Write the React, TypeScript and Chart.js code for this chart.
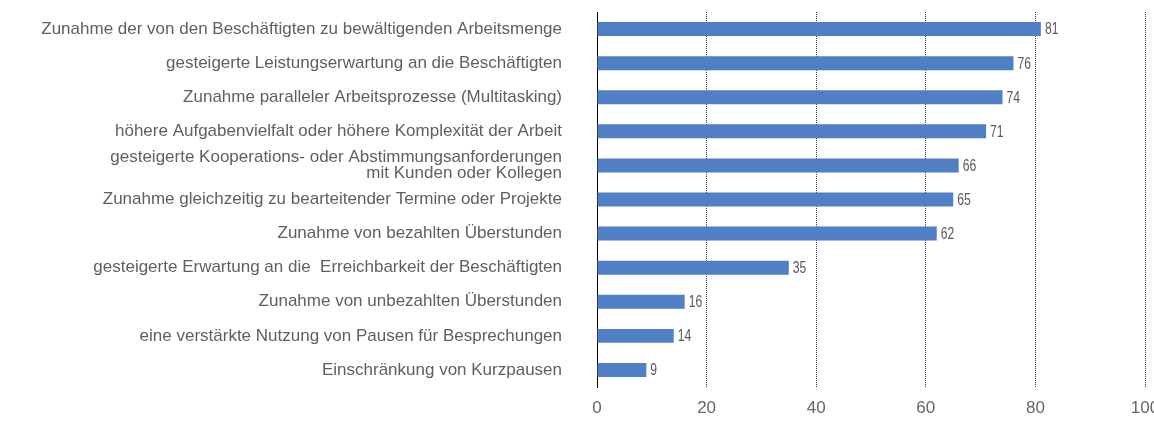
import React, { useEffect, useRef } from "react";
import { Chart, registerables } from "chart.js";

Chart.register(...registerables);

const categories: (string | string[])[] = [
  "Zunahme der von den Beschäftigten zu bewältigenden Arbeitsmenge",
  "gesteigerte Leistungserwartung an die Beschäftigten",
  "Zunahme paralleler Arbeitsprozesse (Multitasking)",
  "höhere Aufgabenvielfalt oder höhere Komplexität der Arbeit",
  ["gesteigerte Kooperations- oder Abstimmungsanforderungen", "mit Kunden oder Kollegen"],
  "Zunahme gleichzeitig zu bearteitender Termine oder Projekte",
  "Zunahme von bezahlten Überstunden",
  "gesteigerte Erwartung an die  Erreichbarkeit der Beschäftigten",
  "Zunahme von unbezahlten Überstunden",
  "eine verstärkte Nutzung von Pausen für Besprechungen",
  "Einschränkung von Kurzpausen",
];

const values: number[] = [81, 76, 74, 71, 66, 65, 62, 35, 16, 14, 9];

const valueLabelPlugin = {
  id: "valueLabels",
  afterDatasetsDraw(chart: any) {
    const { ctx } = chart;
    const meta = chart.getDatasetMeta(0);
    meta.data.forEach((bar: any, i: number) => {
      ctx.save();
      ctx.translate(bar.x + 4, bar.y + 1);
      ctx.scale(0.76, 1);
      ctx.font = '16px "Liberation Sans", Arial, sans-serif';
      ctx.fillStyle = "#595959";
      ctx.textAlign = "left";
      ctx.textBaseline = "middle";
      ctx.fillText(String(values[i]), 0, 0);
      ctx.restore();
    });
  },
};

export default function App() {
  const ref = useRef<HTMLCanvasElement>(null);
  useEffect(() => {
    if (!ref.current) return;
    const chart = new Chart(ref.current, {
      type: "bar",
      data: {
        labels: categories,
        datasets: [
          {
            data: values,
            backgroundColor: "#517fc6",
            borderWidth: 0,
            barPercentage: 0.41,
            categoryPercentage: 1,
          },
        ],
      },
      options: {
        indexAxis: "y",
        animation: false,
        responsive: true,
        maintainAspectRatio: false,
        layout: { padding: { top: 12, right: 9, left: 0, bottom: 0 } },
        plugins: {
          legend: { display: false },
          tooltip: { enabled: false },
        },
        scales: {
          x: {
            min: 0,
            max: 100,
            ticks: {
              stepSize: 20,
              color: "#666666",
              padding: 11,
              font: { family: '"Liberation Sans", Arial, sans-serif', size: 17 },
            },
            grid: {
              drawTicks: false,
              color: (c: any) => (c.tick && c.tick.value === 0 ? "rgba(0,0,0,0)" : "#3a3a3a"),
              lineWidth: 1,
            },
            border: { display: false, dash: [1, 1] },
            afterFit: (scale: any) => {
              scale.height = 56;
              scale.paddingLeft = 0;
              scale.paddingRight = 0;
            },
          },
          y: {
            ticks: {
              color: "#5f5f5f",
              padding: 35,
              autoSkip: false,
              font: { family: '"Liberation Sans", Arial, sans-serif', size: 17, lineHeight: 0.95 },
            },
            grid: { display: false, drawTicks: false },
            border: { display: true, color: "#000000", width: 1 },
            afterFit: (scale: any) => {
              scale.width = 597;
              scale.paddingTop = 0;
              scale.paddingBottom = 0;
            },
          },
        },
      },
      plugins: [valueLabelPlugin],
    });
    return () => chart.destroy();
  }, []);
  return (
    <div style={{ position: "absolute", left: 0, top: 0, width: 1154, height: 443 }}>
      <canvas ref={ref} />
    </div>
  );
}
